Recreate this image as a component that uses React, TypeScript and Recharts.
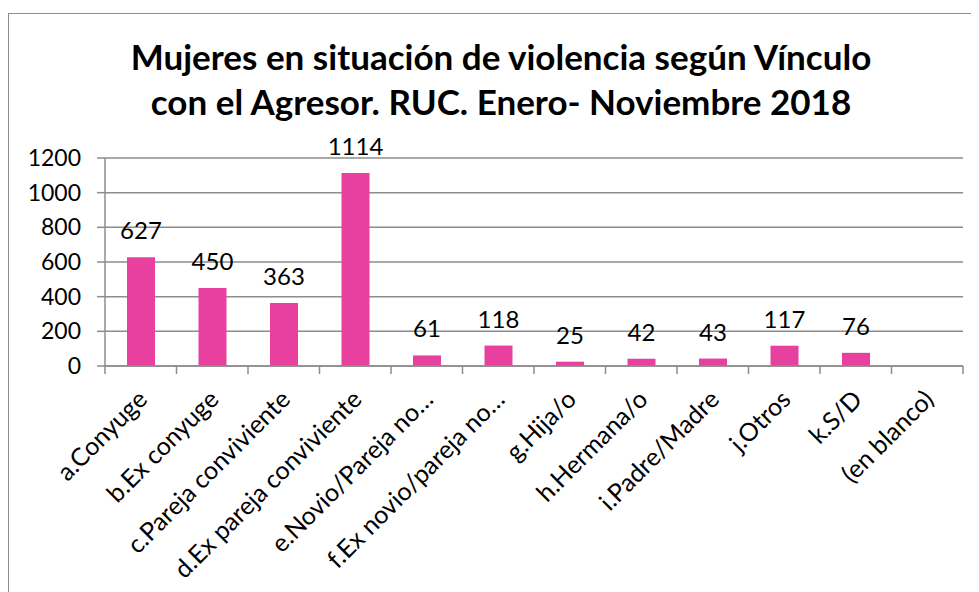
import { BarChart, Bar, XAxis, YAxis, CartesianGrid, LabelList } from 'recharts';

const categorias = [
  'a.Conyuge',
  'b.Ex conyuge',
  'c.Pareja conviviente',
  'd.Ex pareja conviviente',
  'e.Novio/Pareja no…',
  'f.Ex novio/pareja no…',
  'g.Hija/o',
  'h.Hermana/o',
  'i.Padre/Madre',
  'j.Otros',
  'k.S/D',
  '(en blanco)',
];
const casos: (number | null)[] = [627, 450, 363, 1114, 61, 118, 25, 42, 43, 117, 76, null];
const yTicks = [0, 200, 400, 600, 800, 1000, 1200];

const data = categorias.map((nombre, i) => ({ nombre, casos: casos[i] }));

const FONT = 'Lato, "Open Sans", sans-serif';
const GRIS = '#8c8c8c';
const PLOT_W = 858; // ancho del area de grafico
const BAND = PLOT_W / categorias.length;

const CategoriaTick = (props: any) => {
  const { x, y, payload, index } = props;
  const tx = x + 8;
  const ty = y + 35;
  return (
    <g>
      <line x1={x - BAND / 2} y1={y} x2={x - BAND / 2} y2={y + 8} stroke={GRIS} strokeWidth={1.5} />
      {index === categorias.length - 1 && (
        <line x1={x + BAND / 2} y1={y} x2={x + BAND / 2} y2={y + 8} stroke={GRIS} strokeWidth={1.5} />
      )}
      <text
        x={tx}
        y={ty}
        transform={`rotate(-45, ${tx}, ${ty})`}
        textAnchor="end"
        fontSize={25}
        fontFamily={FONT}
        fill="#000"
      >
        {payload.value}
      </text>
    </g>
  );
};

const App = () => {
  return (
    <div
      style={{
        position: 'relative',
        marginTop: 5,
        width: 971,
        height: 579,
        borderTop: `1px solid ${GRIS}`,
        borderLeft: `1px solid ${GRIS}`,
        boxSizing: 'border-box',
        overflow: 'hidden',
      }}
    >
      <div
        style={{
          position: 'absolute',
          top: 20,
          left: 0,
          width: 984,
          textAlign: 'center',
          fontFamily: FONT,
          fontWeight: 700,
          fontSize: 35,
          lineHeight: '45px',
          color: '#000',
        }}
      >
        Mujeres en situación de violencia según Vínculo
        <br />
        con el Agresor. RUC. Enero- Noviembre 2018
      </div>
      <BarChart
        width={962}
        height={570}
        data={data}
        margin={{ top: 144, right: 8, left: 0, bottom: 17 }}
        barSize={28}
      >
        <CartesianGrid vertical={false} stroke={GRIS} strokeWidth={1.5} />
        <XAxis
          dataKey="nombre"
          interval={0}
          height={201}
          tickLine={false}
          tickSize={0}
          tickMargin={0}
          axisLine={{ stroke: GRIS, strokeWidth: 1.5 }}
          tick={<CategoriaTick />}
        />
        <YAxis
          width={96}
          domain={[0, 1200]}
          ticks={yTicks}
          interval={0}
          tickSize={8}
          tickMargin={16}
          axisLine={{ stroke: GRIS, strokeWidth: 1.5 }}
          tickLine={{ stroke: GRIS, strokeWidth: 1.5 }}
          tick={{ fontSize: 23, fontFamily: FONT, fill: '#000' }}
        />
        <Bar dataKey="casos" fill="#E8409F" isAnimationActive={false}>
          <LabelList
            dataKey="casos"
            position="top"
            offset={18}
            fontSize={24}
            fontFamily={FONT}
            fill="#000"
            formatter={(v: any) => (v == null ? '' : v)}
          />
        </Bar>
      </BarChart>
    </div>
  );
};

export default App;
